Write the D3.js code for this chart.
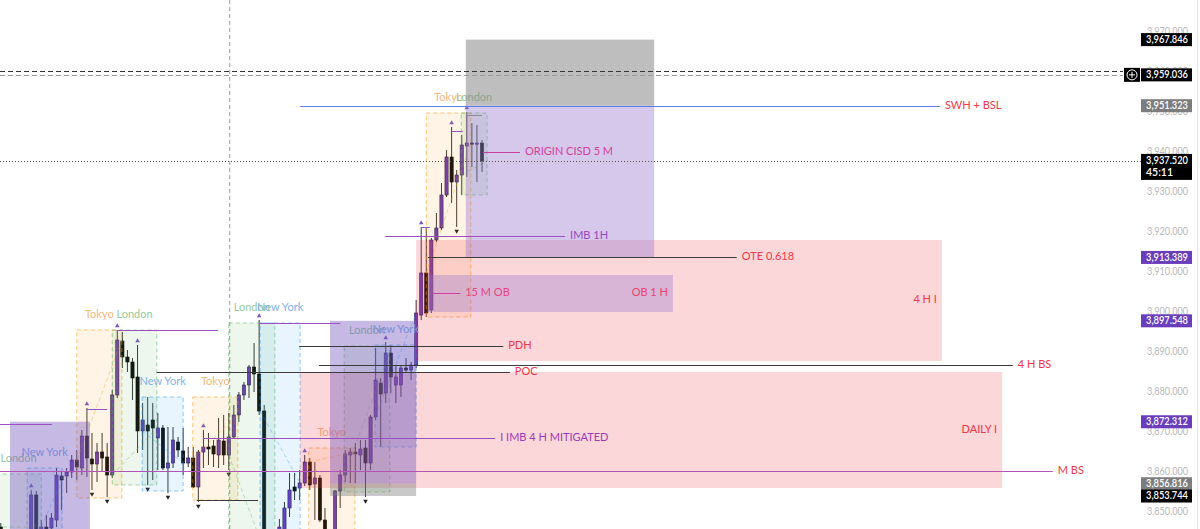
<!DOCTYPE html>
<html><head><meta charset="utf-8">
<script src="https://cdn.jsdelivr.net/npm/d3@7"></script>
<style>body{margin:0;background:#fff;overflow:hidden}svg{display:block;font-family:Lato,"Open Sans",sans-serif}</style>
</head><body><svg id="c" width="1200" height="529"></svg>
<script>
// ---- candle data (index 0..95) ----
const opens  =[3846,3844,3841,3843,3840,3842,3838,3854,3843,3846,3845.75,3847.75,3858.75,3858.75,3859.75,3862.75,3860.75,3868.75,3863,3861.75,3864.75,3863.5,3859,3879,3892.5,3888.5,3887.25,3883.5,3870,3871.5,3872.75,3868.25,3870.75,3860.75,3862,3867.25,3865,3862,3863.25,3856,3864.75,3866,3866.25,3864,3867.5,3864,3868.5,3874,3879,3881.5,3886,3884.25,3875,3840,3830,3833,3845,3850.75,3856,3855.75,3857,3862.25,3856.75,3858.25,3847.75,3838,3843,3855,3859,3864,3864.75,3864,3865.75,3862,3873.5,3882,3879.5,3889.5,3881.5,3881.5,3885.75,3885.25,3886.5,3899,3909.5,3900.25,3917.75,3920.75,3929,3938.5,3932.25,3934,3941.25,3942,3941.75,3942];
const highs  =[3847,3845,3844,3844.5,3843,3843,3855.25,3855,3847.75,3849,3849.5,3860.75,3859.75,3860.75,3864,3865.25,3870.25,3875.75,3869.5,3867,3869.5,3867,3880.25,3895.25,3894.75,3890.25,3888.25,3891.5,3877,3878.5,3877,3874.5,3871.5,3871,3871,3868.5,3870.75,3866,3866,3865.25,3870.25,3869.5,3867.75,3873.25,3874,3874.5,3876.5,3879.75,3882.25,3886.5,3892,3897.75,3876.5,3841,3836,3848,3852.25,3859.5,3859.5,3860.25,3864,3863.25,3862.25,3859,3850.75,3844,3855.25,3860.25,3865.25,3865.75,3867,3867.75,3867.75,3874,3890.75,3883.25,3892.25,3891.5,3886.5,3886.5,3888.25,3887.25,3902.75,3921,3921,3918.25,3924.5,3932,3940.25,3946,3935.25,3944,3949.75,3947,3946.5,3942.75];
const lows   =[3840,3838,3837,3836,3835,3836,3836,3836,3840,3840,3842,3846,3850.25,3854.5,3858.25,3857.75,3859,3858.5,3855.25,3857.25,3859.75,3853.5,3858.25,3878.25,3885.75,3884.75,3877.75,3864.5,3865.25,3856.5,3857.75,3860.25,3860.25,3854.5,3860.75,3863.5,3859,3861,3855.75,3852.25,3860.75,3861.5,3861,3860.75,3861.5,3860.25,3868.25,3872.25,3877.75,3878.25,3879.75,3874,3835,3826,3827,3831,3840,3848.5,3852.75,3852.75,3856.25,3855.25,3847.75,3847.25,3835,3834,3841,3850.75,3857.25,3857,3857,3860.25,3853.5,3860.25,3872.75,3866,3877,3879.5,3877,3878.5,3884.5,3882.75,3885.75,3897.75,3898.5,3899.5,3917.25,3920.25,3928.5,3927,3921,3929,3933.5,3936,3932.25,3934.75];
const closes =[3844,3841,3843,3840,3842,3841,3854,3838,3846,3844.5,3848.25,3859,3857.75,3859.75,3862.75,3861,3868.75,3863.25,3861.75,3864.75,3863.25,3859,3879,3892.75,3888.5,3887.25,3883.25,3870,3872.75,3870,3870.75,3870.75,3860.75,3862,3867.75,3865.25,3862,3863.25,3856,3864.75,3866,3865.5,3864.25,3867.75,3864,3868.5,3874,3879,3881.5,3886,3884.25,3875,3840,3830,3833,3846,3850.75,3855.25,3855,3857,3862.25,3856.5,3858.25,3847.75,3840,3842,3855,3859,3864.25,3864.75,3864.25,3865.5,3862,3873.5,3882.75,3879.25,3889.5,3883.5,3883.5,3885.75,3885.25,3886.5,3899.5,3909.5,3899.5,3917.75,3920.75,3929,3938.5,3932.25,3934,3941.5,3942,3941.75,3942,3937.52];
const fractalUp   =[6,17,23,27,40,51,60,76,83,89,92];
const fractalDown =[18,21,29,33,39,45,72,90];

// ---- price axis ----
const tickValues = [3850,3860,3870,3880,3890,3900,3910,3920,3930,3940,3950,3960,3970];
const axisLabelValues = [3967.846,3959.036,3951.323,3913.389,3897.548,3872.312,3856.816,3853.744];
const axisLabelKinds  = ["black","cross","gray","purple","purple","purple","gray","black"];
const currentPrice = 3937.52, countdown = "45:11";
const crosshairPrice = 3959.036, alertPrice = 3960.08, crosshairIndex = 45.2;

// ---- sessions (index range, price range) ----
const sessionNames  = ["London","New York","Tokyo","London","New York","Tokyo","London","New York","Tokyo","London","New York","Tokyo","London"];
const sessionStart  = [-1,5.2,15,22,27.9,37.9,45,51.2,60.8,67.8,73.9,84,90.9];
const sessionEnd    = [8,12.1,23.9,30.8,36,46.8,54.1,59.1,69.9,76.8,82,92.8,96];
const sessionTop    = [3859.25,3860.75,3895.25,3895.25,3878.5,3878.5,3897,3897,3865.75,3891.25,3891.5,3949.5,3949.5];
const sessionBottom = [3830,3830,3853.25,3856.5,3855,3852.75,3830,3830,3830,3854.75,3866,3898.5,3929];

// ---- zones (rectangles) ----
const zoneStart  = [59.1,82,84.3,91.8,91.8,65,65,1.8];
const zoneEnd    = [197.7,185.8,132.7,129,129,82,82,17.6];
const zoneTop    = [3884.75,3917.75,3909,3967.846,3951.323,3897.548,3856.816,3872.312];
const zoneBottom = [3855.75,3887.5,3899.75,3951.323,3913.389,3856.816,3853.744,3830];
const zoneKinds  = ["pink","pink","mauve","gray","lav","purple","grayLow","purple"];
const zoneLabels = ["DAILY I","4 H I","OB 1 H","","","","",""];

// ---- horizontal levels ----
const levelLabels = ["SWH + BSL","ORIGIN CISD 5 M","IMB 1H","OTE 0.618","15 M OB","PDH","4 H BS","POC","I IMB 4 H MITIGATED","M BS","","","","","","","",""];
const levelPrice  = [3951.323,3939.75,3918.75,3913.5,3904.5,3891.25,3886.5,3884.75,3868.25,3860,3895.25,3897,3871.75,3852.75,3875.5,3945,3949,3921];
const levelStart  = [59.1,95.2,75.9,84.3,85.3,58.9,62.8,30.8,39.9,-0.5,22.9,51,-0.5,38.7,17,88.9,91.8,83];
const levelEnd    = [185.4,102.5,111.4,145.3,90.7,99.2,199.8,100.5,97.6,207.7,42.9,67,10.1,50.8,21,91.2,95,84.7];
const levelKinds  = ["blue","magenta","violet","dark","magenta","dark","dark","dark","violet","mbs","violet","violet","violet","dark","violet","violet","grayl","violet"];

// ---- styles ----
const sessionFill   = {"Tokyo":"rgba(255,152,0,0.10)","London":"rgba(76,175,80,0.10)","New York":"rgba(33,150,243,0.10)"};
const sessionStroke = {"Tokyo":"rgba(255,152,0,0.55)","London":"rgba(76,175,80,0.5)","New York":"rgba(33,150,243,0.5)"};
const sessionText   = {"Tokyo":"#f6b87c","London":"#93c99c","New York":"#7fb2e6"};
const zoneFill = {pink:"rgba(242,54,69,0.2)",mauve:"rgba(149,117,205,0.35)",gray:"rgba(125,125,125,0.5)",lav:"rgba(149,117,205,0.4)",purple:"rgba(118,88,190,0.42)",grayLow:"rgba(120,120,120,0.4)"};
const lineColor = {blue:"#5b7de6",magenta:"#c8429f",violet:"#9c4fc2",dark:"#3c3c3c",mbs:"#b253b5",grayl:"#8a8a8a"};
const labelColor = {blue:"#f23645",magenta:"#d6409a",violet:"#9847c0",dark:"#f23645",mbs:"#f23645"};
const labelOverride = {"15 M OB":"#e64582","I IMB 4 H MITIGATED":"#a03ab4"};
const axisBg = {black:"#000",cross:"#000",gray:"#7d7d7d",purple:"#6a3dbd"};

const svg = d3.select("#c");
const W = 1200, H = 529, plotRight = 1122;
const x = d3.scaleLinear().domain([0,95]).range([0.8,482]);
const y = d3.scaleLinear().domain([3850,3970]).range([511,31]);
const fmt = d3.format(",.3f");

svg.append("defs").append("clipPath").attr("id","plot").append("rect").attr("x",0).attr("y",0).attr("width",plotRight).attr("height",H);
const plot = svg.append("g").attr("clip-path","url(#plot)");

// crosshair vertical
plot.append("line").attr("x1",x(crosshairIndex)).attr("x2",x(crosshairIndex)).attr("y1",0).attr("y2",H)
  .attr("stroke","#9a9a9a").attr("stroke-dasharray","4,3").attr("stroke-width",1);

// candles
const idx = d3.range(opens.length);
const cg = plot.append("g");
cg.selectAll("line.w").data(idx).join("line").attr("class","w")
  .attr("x1",i=>x(i)).attr("x2",i=>x(i)).attr("y1",i=>y(highs[i])).attr("y2",i=>y(lows[i]))
  .attr("stroke","#333").attr("stroke-width",1);
cg.selectAll("rect.b").data(idx).join("rect").attr("class","b")
  .attr("x",i=>x(i)-1.6).attr("width",3.2)
  .attr("y",i=>y(Math.max(opens[i],closes[i])))
  .attr("height",i=>Math.max(1.2,Math.abs(y(opens[i])-y(closes[i]))))
  .attr("fill",i=>closes[i]>=opens[i]?"#6a3cb8":"#0c0c0c")
  .attr("stroke",i=>closes[i]>=opens[i]?"#2a1a4d":"#000").attr("stroke-width",0.6);
cg.selectAll("path.fu").data(fractalUp).join("path")
  .attr("d",d3.symbol(d3.symbolTriangle,9)).attr("transform",i=>`translate(${x(i)},${y(highs[i])-4})`).attr("fill","#7b55c4");
cg.selectAll("path.fd").data(fractalDown).join("path")
  .attr("d",d3.symbol(d3.symbolTriangle,9)).attr("transform",i=>`translate(${x(i)},${y(lows[i])+4}) rotate(180)`).attr("fill","#222");

// sessions
const sIdx = d3.range(sessionNames.length);
const sg = plot.append("g");
sg.selectAll("rect").data(sIdx).join("rect")
  .attr("x",i=>x(sessionStart[i])).attr("width",i=>x(sessionEnd[i])-x(sessionStart[i]))
  .attr("y",i=>y(sessionTop[i])).attr("height",i=>y(sessionBottom[i])-y(sessionTop[i]))
  .attr("fill",i=>sessionFill[sessionNames[i]]).attr("stroke",i=>sessionStroke[sessionNames[i]])
  .attr("stroke-dasharray","4,3").attr("stroke-width",1);
// session open->close diagonal
const clampI = v=>Math.max(0,Math.min(opens.length-1,v));
sg.selectAll("line").data(sIdx).join("line")
  .attr("x1",i=>x(sessionStart[i])).attr("x2",i=>x(sessionEnd[i]))
  .attr("y1",i=>y(opens[clampI(Math.ceil(sessionStart[i]))])).attr("y2",i=>y(closes[clampI(Math.floor(sessionEnd[i]))]))
  .attr("stroke",i=>sessionStroke[sessionNames[i]]).attr("stroke-dasharray","4,3").attr("stroke-width",1).attr("opacity",0.7);
sg.selectAll("text").data(sIdx).join("text")
  .attr("x",i=>(x(sessionStart[i])+x(sessionEnd[i]))/2).attr("y",i=>y(sessionTop[i])-15)
  .attr("text-anchor","middle").attr("dominant-baseline","middle").attr("font-size",11)
  .attr("fill",i=>sessionText[sessionNames[i]]).text(i=>sessionNames[i]);

// zones
const zIdx = d3.range(zoneKinds.length);
const zg = plot.append("g");
zg.selectAll("rect").data(zIdx).join("rect")
  .attr("x",i=>x(zoneStart[i])).attr("width",i=>x(zoneEnd[i])-x(zoneStart[i]))
  .attr("y",i=>y(zoneTop[i])).attr("height",i=>y(zoneBottom[i])-y(zoneTop[i]))
  .attr("fill",i=>zoneFill[zoneKinds[i]]);
zg.selectAll("text").data(zIdx.filter(i=>zoneLabels[i])).join("text")
  .attr("x",i=>x(zoneEnd[i])-5).attr("y",i=>(y(zoneTop[i])+y(zoneBottom[i]))/2)
  .attr("text-anchor","end").attr("dominant-baseline","middle").attr("font-size",11)
  .attr("fill",i=>zoneLabels[i]==="OB 1 H"?"#e8456f":"#f23645").text(i=>zoneLabels[i]);

// levels
const lIdx = d3.range(levelPrice.length);
const lg = plot.append("g");
lg.selectAll("line").data(lIdx).join("line")
  .attr("x1",i=>x(levelStart[i])).attr("x2",i=>x(levelEnd[i]))
  .attr("y1",i=>Math.round(y(levelPrice[i]))+0.5).attr("y2",i=>Math.round(y(levelPrice[i]))+0.5)
  .attr("stroke",i=>lineColor[levelKinds[i]]).attr("stroke-width",1);
lg.selectAll("text").data(lIdx.filter(i=>levelLabels[i])).join("text")
  .attr("x",i=>x(levelEnd[i])+5).attr("y",i=>y(levelPrice[i])+0.5)
  .attr("dominant-baseline","middle").attr("font-size",11)
  .attr("fill",i=>labelOverride[levelLabels[i]]||labelColor[levelKinds[i]]).text(i=>levelLabels[i]);

// current price + crosshair horizontal lines
svg.append("line").attr("x1",0).attr("x2",1141).attr("y1",Math.round(y(currentPrice))+0.5).attr("y2",Math.round(y(currentPrice))+0.5)
  .attr("stroke","#555").attr("stroke-dasharray","1,2");
svg.append("line").attr("x1",0).attr("x2",1123).attr("y1",Math.round(y(alertPrice))+0.5).attr("y2",Math.round(y(alertPrice))+0.5)
  .attr("stroke","#333").attr("stroke-dasharray","5,3");
svg.append("line").attr("x1",0).attr("x2",1123).attr("y1",Math.round(y(crosshairPrice))+0.5).attr("y2",Math.round(y(crosshairPrice))+0.5)
  .attr("stroke","#999").attr("stroke-dasharray","5,3");

// axis
const axis = d3.axisRight(y).tickValues(tickValues).tickSize(0).tickPadding(0).tickFormat(fmt);
const ag = svg.append("g").attr("transform","translate(1188,0)").call(axis);
ag.select(".domain").remove();
ag.selectAll("text").attr("text-anchor","end").attr("x",0).attr("fill","#b8b8b8").attr("font-size",10.5)
  .attr("textLength",41).attr("lengthAdjust","spacingAndGlyphs").attr("font-family","Lato,'Open Sans',sans-serif");
svg.append("line").attr("x1",1197.5).attr("x2",1197.5).attr("y1",0).attr("y2",H).attr("stroke","#e3e3e3");

// axis labels
const alIdx = d3.range(axisLabelValues.length);
const alg = svg.append("g");
alg.selectAll("rect").data(alIdx).join("rect")
  .attr("x",1141).attr("width",51).attr("y",i=>y(axisLabelValues[i])-6.5).attr("height",13)
  .attr("fill",i=>axisBg[axisLabelKinds[i]]);
alg.selectAll("text").data(alIdx).join("text")
  .attr("x",1188).attr("y",i=>y(axisLabelValues[i])+0.5).attr("text-anchor","end").attr("dominant-baseline","middle")
  .attr("font-size",10.5).attr("font-weight",600).attr("fill","#fff")
  .attr("textLength",42).attr("lengthAdjust","spacingAndGlyphs").text(i=>fmt(axisLabelValues[i]));
// crosshair plus icon
const cy = y(crosshairPrice);
alg.append("rect").attr("x",1124).attr("y",cy-7).attr("width",16).attr("height",14).attr("fill","#000");
alg.append("circle").attr("cx",1132).attr("cy",cy).attr("r",5).attr("fill","none").attr("stroke","#fff").attr("stroke-width",1);
alg.append("path").attr("d",`M1129,${cy}H1135M1132,${cy-3}V${cy+3}`).attr("stroke","#fff").attr("stroke-width",1);
// current price label
const py = y(currentPrice);
alg.append("rect").attr("x",1141).attr("y",py-7).attr("width",51).attr("height",26).attr("fill","#000");
alg.append("text").attr("x",1188).attr("y",py+0.5).attr("text-anchor","end").attr("dominant-baseline","middle")
  .attr("font-size",10.5).attr("font-weight",600).attr("fill","#fff")
  .attr("textLength",42).attr("lengthAdjust","spacingAndGlyphs").text(fmt(currentPrice));
alg.append("text").attr("x",1146).attr("y",py+12.5).attr("dominant-baseline","middle")
  .attr("font-size",10.5).attr("font-weight",600).attr("fill","#fff").text(countdown);
</script></body></html>
